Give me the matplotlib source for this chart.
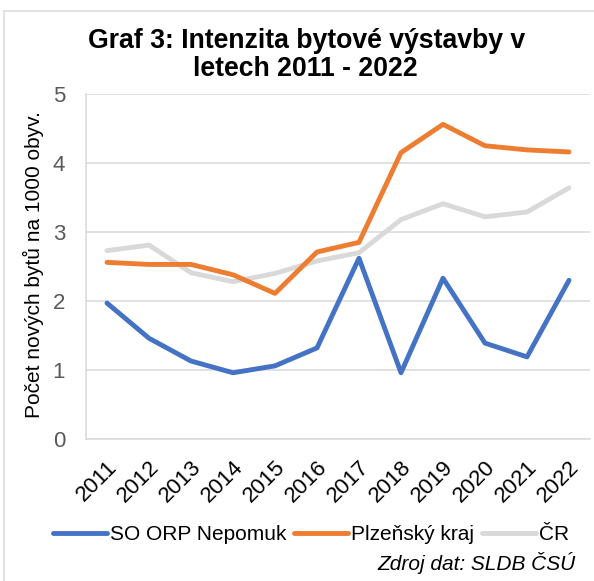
import matplotlib
matplotlib.use("Agg")
import matplotlib.pyplot as plt
from matplotlib.patches import Rectangle

plt.rcParams['font.family'] = ['Liberation Sans', 'DejaVu Sans']

years = ["2011", "2012", "2013", "2014", "2015", "2016", "2017", "2018", "2019", "2020", "2021", "2022"]
nepomuk = [1.97, 1.46, 1.13, 0.96, 1.06, 1.32, 2.62, 0.96, 2.33, 1.39, 1.19, 2.30]
plzensky = [2.56, 2.53, 2.53, 2.38, 2.11, 2.71, 2.85, 4.15, 4.56, 4.25, 4.19, 4.16]
cr = [2.73, 2.81, 2.41, 2.28, 2.40, 2.58, 2.70, 3.18, 3.41, 3.22, 3.29, 3.64]
series_names = ["SO ORP Nepomuk", "Plzeňský kraj", "ČR"]
colors = ["#4472C4", "#ED7D31", "#D9D9D9"]
yticks = [0, 1, 2, 3, 4, 5]

W, H = 594, 581
fig = plt.figure(figsize=(W / 100, H / 100), dpi=100)
ax = fig.add_axes([86 / W, 1 - 439 / H, (590 - 86) / W, (439 - 94) / H])

x = list(range(len(years)))
lines = {}
for vals, name, col, z in [(cr, series_names[2], colors[2], 2),
                           (plzensky, series_names[1], colors[1], 3),
                           (nepomuk, series_names[0], colors[0], 4)]:
    ln, = ax.plot(x, vals, color=col, lw=3.5, solid_capstyle='round',
                  solid_joinstyle='round', label=name, zorder=z)
    lines[name] = ln

ax.set_xlim(-0.5, len(years) - 0.5)
ax.set_ylim(0, 5)
ax.set_yticks(yticks)
ax.set_yticklabels([str(t) for t in yticks], fontsize=16, color="#595959")
ax.set_xticks(x)
ax.set_xticklabels(years, fontsize=16, color="#000000", rotation=45,
                   ha='right', va='top', rotation_mode='anchor')
ax.tick_params(axis='y', length=0, pad=15)
ax.tick_params(axis='x', length=0, pad=13)
ax.grid(axis='y', color="#D9D9D9", lw=1.1, zorder=0)
ax.set_axisbelow(True)
for s in ['top', 'right']:
    ax.spines[s].set_visible(False)
for s in ['left', 'bottom']:
    ax.spines[s].set_color("#D9D9D9")
    ax.spines[s].set_linewidth(1.1)

fig.text(33 / W, 1 - 265 / H, "Počet nových bytů na 1000 obyv.", rotation=90,
         ha='center', va='center', fontsize=15, color="#000000")

fig.text(307 / W, 1 - 41 / H, "Graf 3: Intenzita bytové výstavby v", ha='center',
         va='center', fontsize=19.2, fontweight='bold')
fig.text(305 / W, 1 - 69 / H, "letech 2011 - 2022", ha='center',
         va='center', fontsize=19.2, fontweight='bold')

handles = [lines[n] for n in series_names]
leg = fig.legend(handles, series_names, loc='center', bbox_to_anchor=(311 / W, 1 - 535 / H),
                 ncol=3, frameon=False, fontsize=15, handlelength=2.6,
                 handletextpad=0.15, columnspacing=0.35, borderpad=0, borderaxespad=0)

fig.text(576 / W, 1 - 563 / H, "Zdroj dat: SLDB ČSÚ", ha='right', va='center',
         fontsize=15, fontstyle='italic')

rect = Rectangle((4 / W, -0.2), 1.2, 1 - 11 / H + 0.2, transform=fig.transFigure,
                 fill=False, edgecolor="#D9D9D9", lw=1.1, clip_on=False)
fig.patches.append(rect)

fig.savefig("out.png", dpi=100)
